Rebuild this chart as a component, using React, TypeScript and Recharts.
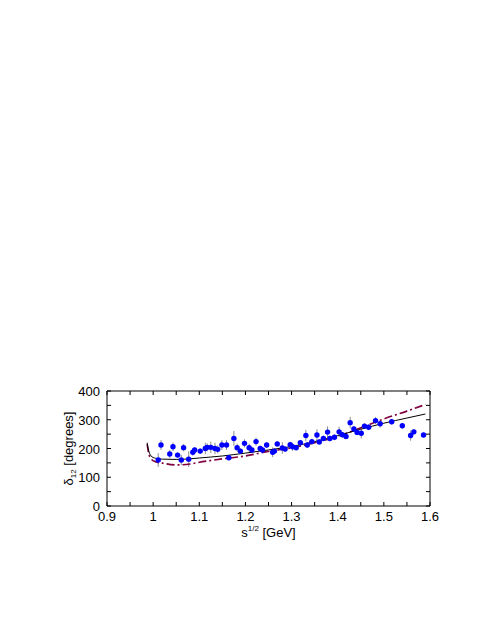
import React from "react";
import {
  ComposedChart,
  XAxis,
  YAxis,
  Scatter,
  Line,
  ErrorBar,
} from "recharts";

const pointX = [
  1.011, 1.017, 1.036, 1.043, 1.053, 1.061, 1.066, 1.077, 1.086, 1.09, 1.102,
  1.113, 1.117, 1.125, 1.134, 1.14, 1.149, 1.159, 1.164, 1.175, 1.182, 1.189,
  1.198, 1.208, 1.214, 1.223, 1.232, 1.237, 1.246, 1.259, 1.263, 1.269, 1.28,
  1.286, 1.297, 1.302, 1.31, 1.319, 1.331, 1.334, 1.344, 1.355, 1.36, 1.369,
  1.378, 1.383, 1.393, 1.403, 1.41, 1.418, 1.427, 1.435, 1.442, 1.451, 1.458,
  1.467, 1.482, 1.492, 1.517, 1.54, 1.558, 1.565, 1.586,
];
const pointY = [
  160, 212, 181, 206, 177, 160, 203, 163, 187, 195, 191, 200, 204, 204, 200,
  197, 212, 212, 168, 235, 203, 191, 218, 203, 195, 224, 200, 195, 212, 187,
  191, 216, 202, 198, 213, 206, 203, 220, 245, 212, 224, 247, 223, 235, 257,
  235, 239, 258, 248, 242, 290, 268, 256, 253, 278, 274, 297, 286, 293, 279,
  245, 258, 247,
];
const pointErr = [
  24, 17, 14, 15, 10, 18, 13, 27, 12, 10, 10, 20, 14, 20, 20, 14, 17, 17, 6, 26,
  14, 10, 14, 14, 10, 14, 10, 10, 10, 17, 10, 10, 20, 10, 10, 14, 10, 10, 20,
  10, 10, 20, 10, 10, 20, 10, 10, 18, 10, 10, 20, 10, 10, 18, 10, 10, 12, 14,
  10, 10, 18, 10, 8,
];

const curveX = [
  0.987, 0.99, 0.995, 1.005, 1.02, 1.05, 1.08, 1.1, 1.15, 1.2, 1.25, 1.3, 1.35,
  1.4, 1.45, 1.5, 1.55, 1.59,
];
const solidY = [
  220, 195, 175, 166, 163, 162, 164, 167, 174, 184, 195, 207, 224, 245, 267,
  288, 306, 320,
];
const dashY = [
  215, 185, 165, 154, 149, 143, 146, 152, 164, 174, 190, 202, 220, 242, 272,
  303, 330, 353,
];

const xTicks = [
  0.9, 0.95, 1, 1.05, 1.1, 1.15, 1.2, 1.25, 1.3, 1.35, 1.4, 1.45, 1.5, 1.55, 1.6,
];
const yTicks = [0, 50, 100, 150, 200, 250, 300, 350, 400];

const points = pointX.map((x, i) => ({ x, y: pointY[i], err: pointErr[i] }));
const solidData = curveX.map((x, i) => ({ x, y: solidY[i] }));
const dashData = curveX.map((x, i) => ({ x, y: dashY[i] }));

const FONT = "'Liberation Sans', Arial, sans-serif";
const TL = 4;

const isMajorX = (v: number) => Math.round(v * 100) % 10 === 0;
const isMajorY = (v: number) => Math.round(v) % 100 === 0;
const fmtX = (v: number) => {
  const r = Math.round(v * 10) / 10;
  return Number.isInteger(r) ? String(r) : r.toFixed(1);
};

const BottomTick = (props: any) => {
  const { x, y, payload } = props;
  const v = payload.value;
  return (
    <g>
      <line x1={x} x2={x} y1={y} y2={y - TL} stroke="#000" strokeWidth={1} />
      {isMajorX(v) && (
        <text x={x} y={y + 15} textAnchor="middle" fontFamily={FONT} fontSize={13} fill="#000">
          {fmtX(v)}
        </text>
      )}
    </g>
  );
};
const TopTick = (props: any) => {
  const { x, y } = props;
  return <line x1={x} x2={x} y1={y} y2={y + TL} stroke="#000" strokeWidth={1} />;
};
const LeftTick = (props: any) => {
  const { x, y, payload } = props;
  const v = payload.value;
  return (
    <g>
      <line x1={x} x2={x + TL} y1={y} y2={y} stroke="#000" strokeWidth={1} />
      {isMajorY(v) && (
        <text x={x - 7} y={y + 5} textAnchor="end" fontFamily={FONT} fontSize={13} fill="#000">
          {v}
        </text>
      )}
    </g>
  );
};
const RightTick = (props: any) => {
  const { x, y } = props;
  return <line x1={x} x2={x - TL} y1={y} y2={y} stroke="#000" strokeWidth={1} />;
};

const Dot = (props: any) => {
  const { cx, cy } = props;
  return <circle cx={cx} cy={cy} r={2.7} fill="#0000ff" stroke="none" />;
};

const XLabel = (props: any) => {
  const { viewBox } = props;
  const cx = viewBox.x + viewBox.width / 2;
  const by = viewBox.y + 31;
  return (
    <text x={cx} y={by} textAnchor="middle" fontFamily={FONT} fontSize={13} fill="#000">
      <tspan>s</tspan>
      <tspan fontSize={8} dy={-6}>1/2</tspan>
      <tspan dy={6}> [GeV]</tspan>
    </text>
  );
};

const YLabel = (props: any) => {
  const { viewBox } = props;
  const cy = viewBox.y + viewBox.height / 2;
  const x = viewBox.x + 6;
  return (
    <text
      x={x}
      y={cy}
      transform={`rotate(-90 ${x} ${cy})`}
      textAnchor="middle"
      fontFamily={FONT}
      fontSize={13}
      fill="#000"
    >
      <tspan>δ</tspan>
      <tspan fontSize={8} dy={3}>12</tspan>
      <tspan dy={-3}> [degrees]</tspan>
    </text>
  );
};

export default function App() {
  return (
    <div style={{ width: 460, height: 560 }}>
      <ComposedChart
        width={460}
        height={560}
        margin={{ top: 382, right: 37, left: 59, bottom: 32 }}
      >
        <XAxis
          xAxisId="b"
          dataKey="x"
          type="number"
          domain={[0.9, 1.6]}
          ticks={xTicks}
          interval={0}
          allowDataOverflow
          height={30}
          tickSize={0}
          tickMargin={0}
          tickLine={false}
          axisLine={{ stroke: "#000" }}
          tick={<BottomTick />}
          label={<XLabel />}
        />
        <XAxis
          xAxisId="t"
          orientation="top"
          dataKey="x"
          type="number"
          domain={[0.9, 1.6]}
          ticks={xTicks}
          interval={0}
          allowDataOverflow
          height={1}
          tickSize={0}
          tickMargin={0}
          tickLine={false}
          axisLine={{ stroke: "#000" }}
          tick={<TopTick />}
        />
        <YAxis
          yAxisId="l"
          type="number"
          domain={[0, 400]}
          ticks={yTicks}
          interval={0}
          allowDataOverflow
          width={40}
          tickSize={0}
          tickMargin={0}
          tickLine={false}
          axisLine={{ stroke: "#000" }}
          tick={<LeftTick />}
          label={<YLabel />}
        />
        <YAxis
          yAxisId="r"
          orientation="right"
          type="number"
          domain={[0, 400]}
          ticks={yTicks}
          interval={0}
          allowDataOverflow
          width={1}
          tickSize={0}
          tickMargin={0}
          tickLine={false}
          axisLine={{ stroke: "#000" }}
          tick={<RightTick />}
        />
        <Scatter
          xAxisId="b"
          yAxisId="l"
          data={points}
          dataKey="y"
          shape={<Dot />}
          isAnimationActive={false}
        >
          <ErrorBar dataKey="err" direction="y" width={0} stroke="#8c8c8c" strokeWidth={1} />
        </Scatter>
        <Line
          xAxisId="b"
          yAxisId="l"
          data={dashData}
          dataKey="y"
          type="monotone"
          stroke="#800040"
          strokeWidth={1.6}
          strokeDasharray="8 3 2 3"
          dot={false}
          activeDot={false}
          isAnimationActive={false}
        />
        <Line
          xAxisId="b"
          yAxisId="l"
          data={solidData}
          dataKey="y"
          type="monotone"
          stroke="#000"
          strokeWidth={1}
          dot={false}
          activeDot={false}
          isAnimationActive={false}
        />
      </ComposedChart>
    </div>
  );
}
